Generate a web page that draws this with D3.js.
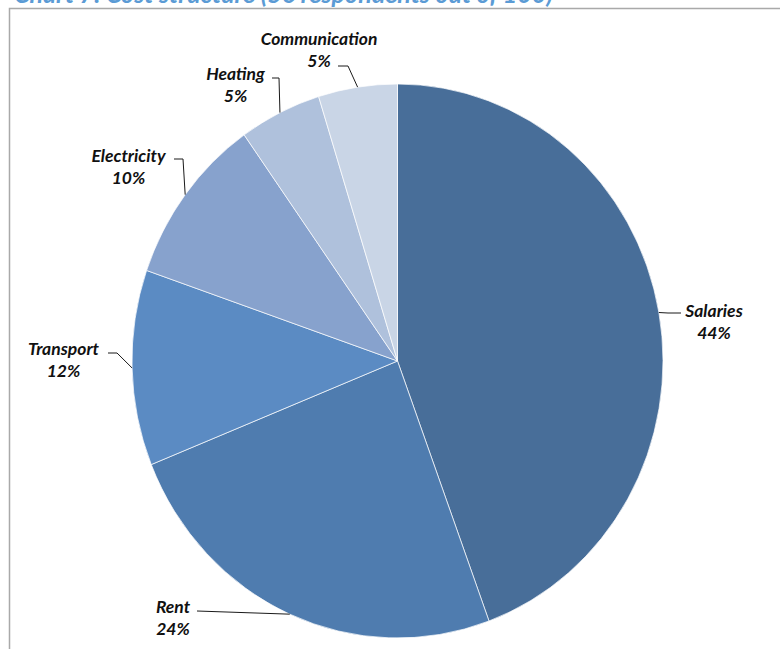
<!DOCTYPE html>
<html>
<head>
<meta charset="utf-8">
<script src="https://cdn.jsdelivr.net/npm/d3@7"></script>
<style>
  html, body { margin: 0; padding: 0; background: #fff; }
  svg { display: block; }
</style>
</head>
<body>
<svg id="chart"></svg>
<script>
/* Cost structure pie - data (shares, labels as printed) */
const categories = ['Salaries', 'Rent', 'Transport', 'Electricity', 'Heating', 'Communication'];
const shares     = [44.4, 24.5, 11.4, 9.9, 5.0, 4.8];
const pctLabels  = ['44%', '24%', '12%', '10%', '5%', '5%'];
const colours    = ['#486e99', '#4f7caf', '#5b8bc3', '#87a2cd', '#afc1dc', '#c9d5e6'];

/* layout */
const W = 780, H = 649;
const cx = 397.5, cy = 361, rx = 265.5, ry = 277;
const font = 'Lato, "Open Sans", "DejaVu Sans", sans-serif';

// label text centre / first baseline, leader start, knee offset
const labelLayout = [
  { x: 714, y: 317, lx: 681, ly: 313, kx: -13 },
  { x: 173, y: 613, lx: 197, ly: 611, kx: 0 },
  { x: 63.5, y: 355, lx: 108, ly: 353, kx: 9 },
  { x: 128.5, y: 162, lx: 174, ly: 159, kx: 9 },
  { x: 235.5, y: 80, lx: 272, ly: 78, kx: 7 },
  { x: 319, y: 45, lx: 338, ly: 66, kx: 10 }
];

const svg = d3.select('#chart').attr('width', W).attr('height', H);

// title (mostly cropped off above the frame, as in the source)
svg.append('text')
   .attr('x', 14).attr('y', 3)
   .attr('font-family', font)
   .attr('font-weight', 'bold').attr('font-style', 'italic')
   .attr('font-size', 25)
   .attr('fill', '#5b9bd5')
   .text('Chart 7: Cost structure (56 respondents out of 100)');

// chart frame
svg.append('rect')
   .attr('x', 9.5).attr('y', 8.5)
   .attr('width', W + 20).attr('height', H + 20)
   .attr('fill', '#fff')
   .attr('stroke', '#a9a9a9')
   .attr('stroke-width', 1.5);

const rows = categories.map((c, i) => ({ name: c, value: shares[i], pct: pctLabels[i], i }));

const pie = d3.pie().sort(null).value(d => d.value);
const arcs = pie(rows);
const arc = d3.arc().innerRadius(0).outerRadius(rx);

const g = svg.append('g')
  .attr('transform', `translate(${cx},${cy}) scale(1,${ry / rx})`);

g.selectAll('path.slice')
  .data(arcs)
  .join('path')
    .attr('class', 'slice')
    .attr('d', arc)
    .attr('fill', d => colours[d.index])
    .attr('stroke', '#fff')
    .attr('stroke-width', 0.7)
    .attr('vector-effect', 'non-scaling-stroke');

// leader lines + labels
arcs.forEach(d => {
  const a = (d.startAngle + d.endAngle) / 2;
  const ex = cx + rx * Math.sin(a);
  const ey = cy - ry * Math.cos(a);
  const L = labelLayout[d.index];

  svg.append('path')
     .attr('d', d3.line()([[L.lx, L.ly], [L.lx + L.kx, L.ly], [ex, ey]]))
     .attr('fill', 'none')
     .attr('stroke', '#1a1a1a')
     .attr('stroke-width', 1);

  const t = svg.append('text')
     .attr('text-anchor', 'middle')
     .attr('font-family', font)
     .attr('font-weight', 'bold').attr('font-style', 'italic')
     .attr('font-size', 17.5)
     .attr('fill', '#111');
  t.append('tspan').attr('x', L.x).attr('y', L.y).text(d.data.name);
  t.append('tspan').attr('x', L.x).attr('y', L.y + 22).text(d.data.pct);
});
</script>
</body>
</html>
